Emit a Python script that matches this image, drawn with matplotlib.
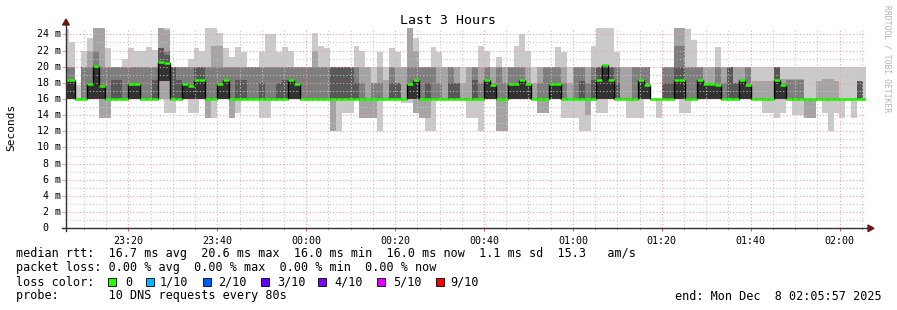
import numpy as np
import matplotlib
matplotlib.use("Agg")
import matplotlib.pyplot as plt
from matplotlib.patches import Rectangle, Polygon

# ---------------- data (milliseconds) ----------------
# time axis: minutes after 23:00, one sample every 80 s
first_sample_min = 5.31
step_min = 80 / 60.0

median = [18.3, 18.3, 16, 16, 17.8, 20.1, 17.6, 16, 16, 16,
          16, 17.8, 17.8, 16, 16, 16, 20.6, 20.5, 16, 16,
          17.8, 17.6, 18.4, 18.3, 16, 16, 17.8, 18.3, 16, 16,
          16, 16, 16, 16, 16, 16, 16, 16, 18.3, 17.8,
          16, 16, 16, 16, 16, 16, 16, 16, 16, 16,
          16, 16, 16, 16, 16, 16, 16, 16, 17.8, 18.3,
          16, 16, 16, 16, 16, 16, 16, 16, 16, 16,
          16, 18.4, 17.7, 16, 16, 17.8, 17.8, 18.4, 17.9, 16,
          16, 16, 17.9, 17.9, 16, 16, 16, 16, 16, 16,
          18.4, 20.2, 18.3, 16, 16, 16, 16, 18.4, 17.7, 16,
          16, 16, 16, 18.4, 18.3, 16, 16, 18.3, 17.8, 17.8,
          17.7, 16, 16, 16, 18.4, 17.7, 16, 16, 16, 16,
          18.4, 17.7, 16, 16, 16, 16, 16, 16, 16, 16,
          16, 16, 16, 16, 16, 16]

# sorted pings per sample: ping1 lowest ... ping10 highest
ping10 = [24.7, 23.0, 17.7, 22.0, 23.5, 24.8, 24.8, 22.3, 20.0, 20.0,
          21.0, 22.3, 22.0, 22.0, 22.4, 22.1, 24.8, 24.8, 20.0, 20.0,
          20.0, 21.0, 22.3, 22.0, 24.8, 24.8, 24.2, 22.3, 21.2, 22.4,
          21.8, 20.0, 20.0, 21.8, 24.0, 24.0, 21.8, 22.4, 22.0, 20.0,
          20.0, 20.0, 24.2, 22.5, 22.3, 20.0, 20.0, 20.0, 20.0, 22.5,
          22.0, 20.0, 20.0, 21.8, 20.0, 22.3, 21.8, 20.0, 24.8, 23.5,
          20.0, 20.0, 22.4, 21.8, 20.0, 20.0, 20.0, 20.0, 20.0, 20.0,
          22.5, 22.0, 20.0, 21.2, 20.0, 20.0, 22.5, 24.0, 22.0, 20.0,
          20.0, 20.0, 20.0, 22.4, 21.8, 20.0, 20.0, 20.0, 20.0, 22.5,
          24.8, 24.8, 24.8, 21.8, 20.0, 20.0, 20.0, 20.0, 20.0, 16.0,
          16.0, 20.0, 20.0, 24.8, 24.8, 24.7, 23.3, 20.0, 20.0, 20.0,
          22.4, 20.0, 20.0, 20.0, 20.0, 20.0, 20.0, 20.0, 20.0, 20.0,
          20.0, 20.0, 20.0, 20.0, 20.0, 20.0, 20.0, 20.0, 20.0, 20.0,
          20.0, 20.0, 20.0, 20.0, 20.0, 20.0]

ping9 = [20, 20, 16, 20, 22, 24.8, 24.8, 20, 20, 20,
         20, 20, 20, 20, 20, 20, 24.8, 24.5, 20, 20,
         20, 20, 20, 20, 20, 22.5, 22.5, 20, 20, 20,
         20, 20, 20, 20, 20, 20, 20, 20, 20, 20,
         20, 20, 22, 20, 20, 20, 20, 20, 20, 20,
         20, 20, 18, 20, 18.3, 20, 20, 20, 24.8, 22,
         20, 20, 20, 20, 20, 20, 20, 18, 20, 20,
         20, 20, 20, 20, 20, 20, 20, 20, 20, 18,
         20, 20, 20, 20, 20, 18, 20, 20, 20, 20,
         20, 20, 20, 20, 20, 20, 20, 20, 20, 16,
         16, 20, 20, 24.8, 24.8, 20, 20, 20, 20, 20,
         20, 20, 20, 20, 20, 20, 18.2, 18.2, 18.2, 18.2,
         20, 18.5, 18.5, 18.5, 18.5, 16, 16, 18.2, 18.5, 18.5,
         18.2, 16, 16, 16, 18.2, 16]

ping8 = [20, 20, 16, 20, 20, 22, 20, 20, 20, 20,
         20, 20, 20, 20, 20, 20, 22.3, 22, 20, 20,
         20, 20, 20, 20, 20, 20, 20, 20, 20, 20,
         20, 20, 20, 20, 20, 20, 20, 20, 20, 20,
         20, 20, 20, 20, 20, 20, 20, 20, 20, 20,
         18, 16, 18, 18, 16, 20, 18, 16, 20, 20,
         20, 20, 20, 18, 16, 20, 18, 16, 16, 20,
         18, 20, 18, 20, 18, 20, 20, 20, 18, 16,
         18, 20, 20, 20, 18, 16, 20, 20, 18, 20,
         20, 20, 20, 20, 16, 16, 20, 20, 20, 16,
         16, 20, 20, 22.5, 22.5, 20, 20, 20, 16, 16,
         20, 18, 20, 18, 18.4, 20, 16, 16, 16, 16,
         20, 18, 18.3, 18.3, 18.3, 16, 16, 16, 16, 16,
         16, 16, 16, 16, 18.2, 16]

ping7 = [18.3, 18.3, 16, 16, 17.8, 20.1, 17.6, 16, 18.3, 18.3,
         16, 17.8, 17.8, 16, 16, 18.3, 22.3, 21.5, 20, 18.3,
         17.8, 17.6, 20, 20, 16, 16, 17.8, 18.3, 16, 18.3,
         18.3, 16, 16, 18, 16, 16, 18, 18.3, 18.3, 17.8,
         16, 16, 16, 16, 16, 20, 20, 20, 20, 18,
         16, 16, 16, 16, 16, 18, 18, 16, 17.8, 18.3,
         16, 18, 16, 16, 16, 18, 18, 16, 16, 18.3,
         16, 18.4, 17.7, 16, 16, 17.8, 17.8, 18.4, 17.9, 16,
         16, 16, 17.9, 17.9, 16, 16, 16, 18.2, 16, 18.4,
         20, 20.2, 20, 18, 16, 16, 16, 18.4, 17.7, 16,
         16, 18, 18, 20, 20, 16, 16, 18.3, 17.8, 17.8,
         17.7, 16, 20, 18, 18.4, 17.7, 16, 16, 16, 16,
         20, 17.7, 16, 16, 16, 16, 16, 16, 16, 16,
         16, 16, 16, 16, 18.2, 16]

ping6 = [18.3, 18.3, 16, 16, 17.8, 20.1, 17.6, 16, 16, 16,
         16, 17.8, 17.8, 16, 16, 16, 20.6, 20.5, 16, 16,
         17.8, 17.6, 18.4, 18.3, 16, 16, 17.8, 18.3, 16, 16,
         16, 16, 16, 16, 16, 16, 16, 16, 18.3, 17.8,
         16, 16, 16, 16, 16, 16, 16, 16, 16, 16,
         16, 16, 16, 16, 16, 16, 16, 16, 17.8, 18.3,
         16, 16, 16, 16, 16, 16, 16, 16, 16, 16,
         16, 18.4, 17.7, 16, 16, 17.8, 17.8, 18.4, 17.9, 16,
         16, 16, 17.9, 17.9, 16, 16, 16, 16, 16, 16,
         18.4, 20.2, 18.3, 16, 16, 16, 16, 18.4, 17.7, 16,
         16, 16, 16, 18.4, 18.3, 16, 16, 18.3, 17.8, 17.8,
         17.7, 16, 16, 16, 18.4, 17.7, 16, 16, 16, 16,
         18.4, 17.7, 16, 16, 16, 16, 16, 16, 16, 16,
         16, 16, 16, 16, 16, 16]

ping5 = [16, 16, 16, 16, 16, 16, 16, 16, 16, 16,
         16, 16, 16, 16, 16, 16, 18.2, 18.2, 16, 16,
         16, 16, 16, 16, 16, 16, 16, 16, 16, 16,
         16, 16, 16, 16, 16, 16, 16, 16, 16, 16,
         16, 16, 16, 16, 16, 16, 16, 16, 16, 16,
         16, 16, 16, 16, 16, 16, 16, 16, 16, 16,
         16, 16, 16, 16, 16, 16, 16, 16, 16, 16,
         16, 16, 16, 16, 16, 16, 16, 16, 16, 16,
         16, 16, 16, 16, 16, 16, 16, 16, 16, 16,
         16, 16, 16, 16, 16, 16, 16, 16, 16, 16,
         16, 16, 16, 16, 16, 16, 16, 16, 16, 16,
         16, 16, 16, 16, 16, 16, 16, 16, 16, 16,
         16, 16, 16, 16, 16, 16, 16, 16, 16, 16,
         16, 16, 16, 16, 16, 16]
ping4 = [16, 16, 16, 16, 16, 16, 16, 16, 16, 16,
         16, 16, 16, 16, 16, 16, 18.2, 18.2, 16, 16,
         16, 16, 16, 16, 16, 16, 16, 16, 16, 16,
         16, 16, 16, 16, 16, 16, 16, 16, 16, 16,
         16, 16, 16, 16, 16, 16, 16, 16, 16, 16,
         16, 16, 16, 16, 16, 16, 16, 16, 16, 16,
         16, 16, 16, 16, 16, 16, 16, 16, 16, 16,
         16, 16, 16, 16, 16, 16, 16, 16, 16, 16,
         16, 16, 16, 16, 16, 16, 16, 16, 16, 16,
         16, 16, 16, 16, 16, 16, 16, 16, 16, 16,
         16, 16, 16, 16, 16, 16, 16, 16, 16, 16,
         16, 16, 16, 16, 16, 16, 16, 16, 16, 16,
         16, 16, 16, 16, 16, 16, 16, 16, 16, 16,
         16, 16, 16, 16, 16, 16]
ping3 = [16, 16, 16, 16, 16, 16, 16, 16, 16, 16,
         16, 16, 16, 16, 16, 16, 18.2, 18.2, 16, 16,
         16, 16, 16, 16, 16, 16, 16, 16, 16, 16,
         16, 16, 16, 16, 16, 16, 16, 16, 16, 16,
         16, 16, 16, 16, 16, 16, 16, 16, 16, 16,
         16, 16, 16, 16, 16, 16, 16, 16, 16, 16,
         16, 16, 16, 16, 16, 16, 16, 16, 16, 16,
         16, 16, 16, 16, 16, 16, 16, 16, 16, 16,
         16, 16, 16, 16, 16, 16, 16, 16, 16, 16,
         16, 16, 16, 16, 16, 16, 16, 16, 16, 16,
         16, 16, 16, 16, 16, 16, 16, 16, 16, 16,
         16, 16, 16, 16, 16, 16, 16, 16, 16, 16,
         16, 16, 16, 16, 16, 16, 16, 16, 16, 16,
         16, 16, 16, 16, 16, 16]

ping2 = [16, 16, 16, 16, 16, 16, 13.7, 13.7, 16, 16,
         16, 16, 16, 16, 16, 16, 16, 16, 16, 16,
         16, 16, 16, 16, 13.7, 16, 16, 16, 13.6, 16,
         16, 16, 16, 16, 16, 16, 16, 16, 16, 16,
         16, 16, 16, 16, 16, 12.0, 16, 16, 16, 16,
         13.7, 13.7, 13.7, 16, 16, 16, 16, 16, 16, 14.3,
         13.7, 13.7, 16, 16, 16, 16, 16, 16, 16, 16,
         16, 16, 16, 12.0, 12.0, 16, 16, 16, 16, 16,
         14.3, 14.3, 16, 16, 16, 16, 16, 16, 14.0, 16,
         16, 16, 16, 16, 16, 16, 16, 16, 16, 16,
         16, 16, 16, 16, 16, 16, 16, 16, 16, 16,
         16, 16, 16, 16, 16, 16, 16, 16, 16, 16,
         16, 16, 16, 16, 16, 13.7, 13.7, 16, 16, 16,
         16, 16, 16, 16, 16, 16]

ping1 = [16, 16, 16, 16, 16, 16, 13.7, 13.7, 16, 16,
         16, 16, 16, 16, 16, 16, 16, 14.3, 14.3, 16,
         16, 14.3, 14.3, 16, 13.7, 13.7, 16, 16, 13.6, 14.3,
         16, 16, 16, 13.7, 13.7, 16, 16, 16, 16, 16,
         16, 16, 16, 16, 16, 12.0, 12.0, 14.3, 14.3, 16,
         13.7, 13.7, 13.7, 12.0, 16, 16, 16, 15.5, 15.5, 14.3,
         13.7, 12.0, 12.0, 16, 16, 16, 16, 16, 13.7, 13.7,
         12.0, 16, 16, 12.0, 12.0, 16, 16, 16, 16, 16,
         14.3, 14.3, 16, 16, 13.7, 13.7, 13.7, 12.0, 12.0, 16,
         14.3, 14.3, 16, 16, 16, 13.7, 13.7, 13.7, 16, 16,
         13.7, 16, 16, 16, 14.3, 14.3, 16, 16, 16, 16,
         16, 16, 16, 16, 16, 16, 16, 16, 14.3, 14.3,
         13.7, 14.3, 16, 14.0, 14.0, 13.7, 13.7, 16, 14.3, 12.0,
         14.3, 13.7, 16, 13.7, 16, 16]

xtick_labels = ["23:20", "23:40", "00:00", "00:20", "00:40",
                "01:00", "01:20", "01:40", "02:00"]
xtick_minutes = [20, 40, 60, 80, 100, 120, 140, 160, 180]
ytick_values = list(range(0, 25, 2))
ytick_labels = ["0"] + ["%d m" % v for v in range(2, 25, 2)]
x_start_min, x_end_min = 5.95, 185.95
y_max = 24.75

loss_labels = ["0", "1/10", "2/10", "3/10", "4/10", "5/10", "9/10"]
loss_colors = ["#26ff00", "#00b8ff", "#0059ff", "#5e00ff",
               "#7e00ff", "#dd00ff", "#ff0000"]

# ---------------- figure ----------------
W, H = 897, 310
plt.rcParams["font.family"] = ["DejaVu Sans Mono"]
fig = plt.figure(figsize=(W / 100, H / 100), dpi=100)
fig.patch.set_facecolor("white")


def fx(x):
    return x / W


def fy(y):
    return 1 - y / H


ax_l, ax_r, ax_t, ax_b = 66, 866, 28.3, 228.3
ax = fig.add_axes([fx(ax_l), fy(ax_b), (ax_r - ax_l) / W, (ax_b - ax_t) / H])
ax.set_xlim(x_start_min, x_end_min)
ax.set_ylim(0, y_max)
for s in ax.spines.values():
    s.set_visible(False)
ax.set_facecolor("white")

n = len(median)
edges = first_sample_min + step_min * np.arange(n + 1)

pairs = [(ping1, ping10), (ping2, ping9), (ping3, ping8), (ping4, ping7), (ping5, ping6)]
shades = ["#cacaca", "#a4a4a4", "#7e7e7e", "#585858", "#323232"]
for (lo, hi), c in zip(pairs, shades):
    lo = np.array(lo, float)
    hi = np.array(hi, float)
    ax.stairs(np.maximum(hi, lo), edges, baseline=lo, fill=True, color=c,
              lw=0, antialiased=False, zorder=2)

# grid (drawn over the smoke, as rrdtool does)
minor_col = "#c4c4c4"
major_col = "#f2a0a0"
for m in np.arange(10, 186, 5):
    if m % 20 == 0:
        continue
    ax.axvline(m, color=minor_col, lw=0.8, ls=(0, (1, 2)), zorder=3)
for v in range(1, 25, 2):
    ax.axhline(v, color=minor_col, lw=0.8, ls=(0, (1, 2)), zorder=3)
for m in xtick_minutes:
    ax.axvline(m, color=major_col, lw=0.8, ls=(0, (1, 2)), zorder=3)
for v in ytick_values[1:]:
    ax.axhline(v, color=major_col, lw=0.8, ls=(0, (1, 2)), zorder=3)

# median line + loss colour
med = np.array(median, float)
ax.stairs(med, edges, baseline=None, color="black", lw=1.0, zorder=4)
ax.hlines(med, edges[:-1], edges[1:], color=loss_colors[0], lw=1.8,
          zorder=5, capstyle="butt")

ax.set_xticks(xtick_minutes)
ax.set_xticklabels(xtick_labels, fontsize=7.2)
ax.set_yticks(ytick_values)
ax.set_yticklabels([])
ax.tick_params(axis="x", length=2.5, width=0.8, color="#e06060", pad=3)
ax.tick_params(axis="y", length=3, width=0.8, color="#f2a0a0")
ax.set_xticks(np.arange(10, 186, 5), minor=True)
ax.tick_params(axis="x", which="minor", length=1.5, width=0.6, color="#b0b0b0")

# y tick labels placed like rrdtool (the "0" is left aligned with the others)
for v, lab in zip(ytick_values, ytick_labels):
    ypix = ax_b - (ax_b - ax_t) * v / y_max
    if lab == "0":
        fig.text(fx(42), fy(ypix), lab, ha="left", va="center", fontsize=7.2)
    else:
        fig.text(fx(60.5), fy(ypix), lab, ha="right", va="center", fontsize=7.2)

# axes lines with arrows
axis_col = "#303030"
fig.add_artist(plt.Line2D([fx(62), fx(870)], [fy(228.3), fy(228.3)],
                          color=axis_col, lw=1.0))
fig.add_artist(plt.Line2D([fx(66), fx(66)], [fy(231), fy(22)],
                          color=axis_col, lw=1.0))
arrow_col = "#7a1010"
fig.add_artist(Polygon([[fx(868), fy(225)], [fx(868), fy(231.6)], [fx(874), fy(228.3)]],
                       closed=True, color=arrow_col, transform=fig.transFigure))
fig.add_artist(Polygon([[fx(62.7), fy(25)], [fx(69.3), fy(25)], [fx(66), fy(19)]],
                       closed=True, color=arrow_col, transform=fig.transFigure))

# titles
fig.text(fx(448), fy(20), "Last 3 Hours", ha="center", va="center", fontsize=9.5)
fig.text(fx(11), fy(127), "Seconds", ha="center", va="center", rotation=90, fontsize=8)
fig.text(fx(886.5), fy(5), "RRDTOOL / TOBI OETIKER", ha="center", va="top",
         rotation=-90, fontsize=5.8, color="#b4b4b4")

# legend
fs = 8.5
fig.text(fx(16), fy(254), "median rtt:  16.7 ms avg  20.6 ms max  16.0 ms min  16.0 ms now  1.1 ms sd  15.3   am/s",
         ha="left", va="center", fontsize=fs)
fig.text(fx(16), fy(268), "packet loss: 0.00 % avg  0.00 % max  0.00 % min  0.00 % now",
         ha="left", va="center", fontsize=fs)
fig.text(fx(16), fy(282), "loss color:", ha="left", va="center", fontsize=fs)
box_x = [108.3, 145.7, 202.7, 261, 318.3, 376.7, 435.7]
lab_x = [125, 160, 218, 277, 334, 393, 450]
for bx, lx, lab, col in zip(box_x, lab_x, loss_labels, loss_colors):
    fig.add_artist(Rectangle((fx(bx), fy(286)), 8 / W, 8 / H, facecolor=col,
                             edgecolor="black", lw=0.6, transform=fig.transFigure))
    fig.text(fx(lx), fy(282), lab, ha="left", va="center", fontsize=fs)
fig.text(fx(16), fy(296), "probe:       10 DNS requests every 80s", ha="left",
         va="center", fontsize=fs)
fig.text(fx(882), fy(296), "end: Mon Dec  8 02:05:57 2025", ha="right",
         va="center", fontsize=fs)

fig.savefig("out.png", dpi=100, facecolor="white")
